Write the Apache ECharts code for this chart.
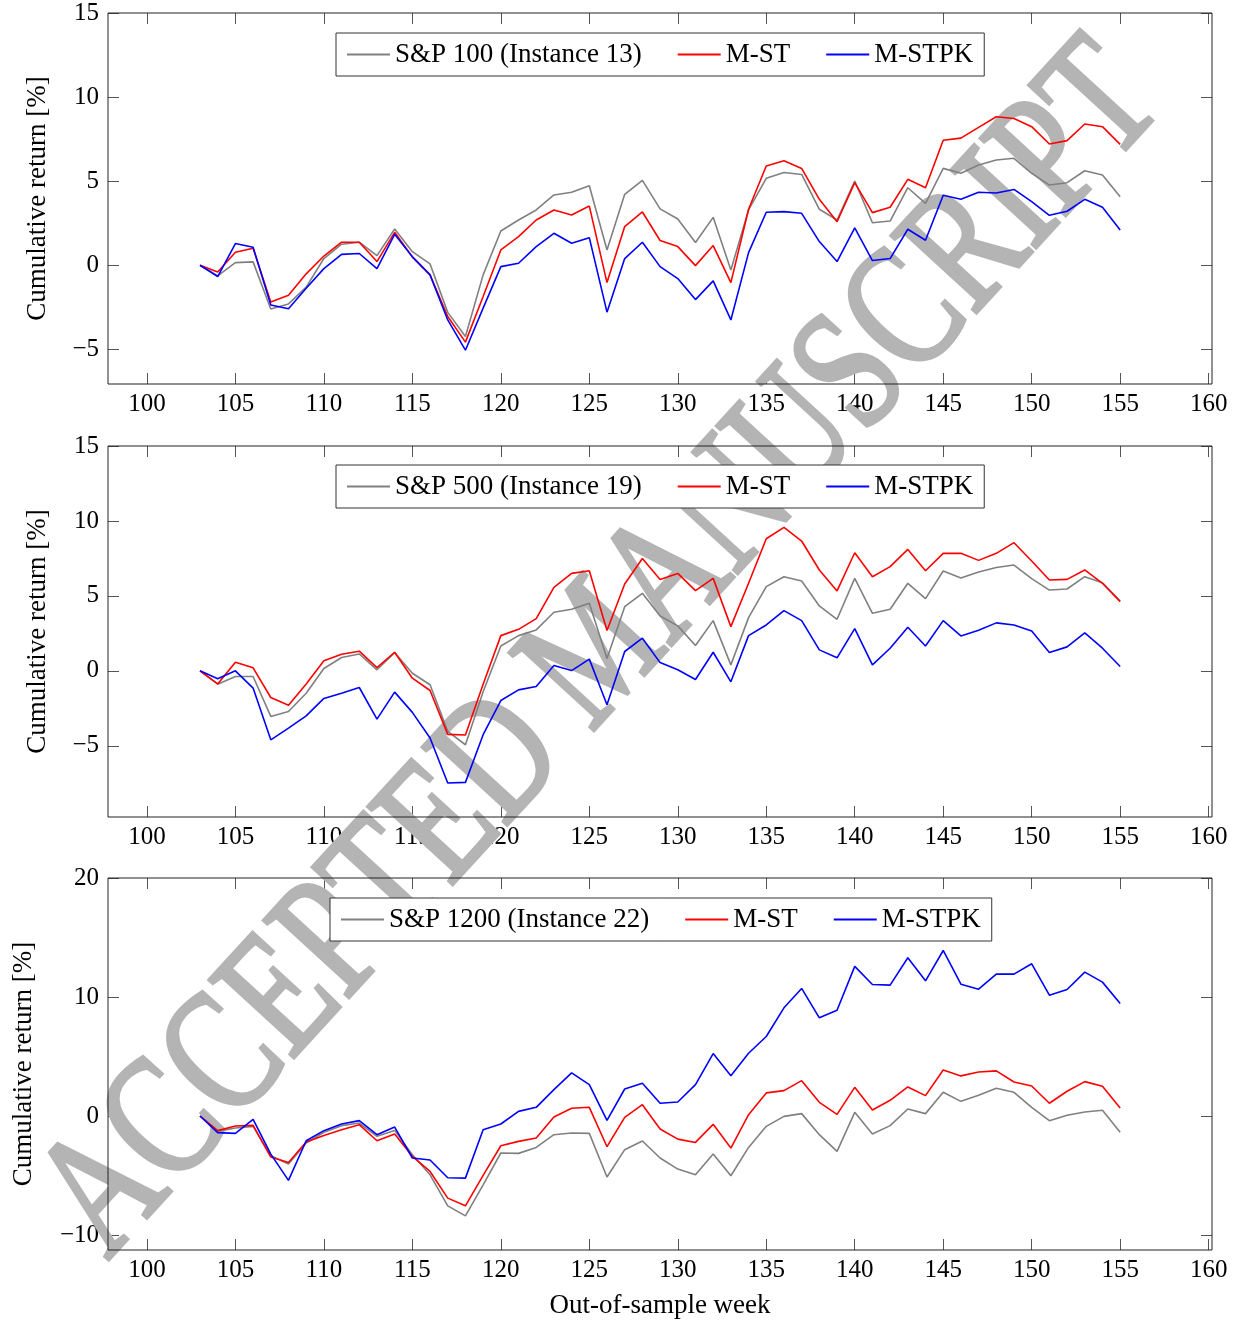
<!DOCTYPE html>
<html>
<head>
<meta charset="utf-8">
<script src="https://cdn.jsdelivr.net/npm/echarts@6/dist/echarts.min.js"></script>
<style>html,body{margin:0;padding:0;background:#fff}#c{width:1241px;height:1321px}</style>
</head>
<body>
<div id="c"></div>
<script>
// ---- data ----
const weeks = [103,104,105,106,107,108,109,110,111,112,113,114,115,116,117,118,119,120,121,122,123,124,125,126,127,128,
  129,130,131,132,133,134,135,136,137,138,139,140,141,142,143,144,145,146,147,148,149,150,151,152,153,154,155];

const xTicks = [100,105,110,115,120,125,130,135,140,145,150,155,160];

// Panel 1: S&P 100 (Instance 13)
const sp100Index = [0,-0.63,0.16,0.2,-2.6,-2.3,-1.3,0.4,1.25,1.37,0.57,2.16,0.81,0.08,-2.8,-4.24,-0.57,2.04,2.69,3.29,4.18,4.34,4.73,0.91,4.22,5.05,
  3.35,2.75,1.35,2.85,-0.28,3.29,5.17,5.52,5.4,3.33,2.69,5.01,2.53,2.63,4.61,3.68,5.76,5.47,5.96,6.26,6.36,5.47,4.77,4.91,5.62,5.37,4.08];
const sp100MST = [0,-0.4,0.77,1.01,-2.18,-1.78,-0.51,0.55,1.37,1.37,0.22,1.96,0.5,-0.57,-3.05,-4.57,-1.86,0.91,1.7,2.69,3.29,2.99,3.52,-1.03,2.3,3.17,
  1.47,1.11,-0.02,1.17,-1.03,3.33,5.9,6.22,5.76,3.92,2.59,4.91,3.13,3.45,5.11,4.61,7.43,7.56,8.2,8.83,8.73,8.24,7.21,7.41,8.4,8.24,7.19];
const sp100MSTPK = [0,-0.67,1.29,1.07,-2.36,-2.59,-1.37,-0.2,0.65,0.7,-0.2,1.84,0.5,-0.57,-3.25,-5.05,-2.55,-0.08,0.12,1.11,1.9,1.31,1.64,-2.79,0.4,1.37,
  -0.08,-0.79,-2.04,-0.93,-3.25,0.75,3.15,3.19,3.09,1.41,0.22,2.22,0.28,0.4,2.14,1.49,4.16,3.92,4.34,4.3,4.51,3.78,2.97,3.21,3.92,3.45,2.1];
const yTicks1 = [-5,0,5,10,15];

// Panel 2: S&P 500 (Instance 19)
const sp500Index = [0,-0.89,-0.38,-0.38,-3.04,-2.71,-1.49,0.16,0.89,1.13,0.07,1.22,-0.16,-0.93,-4.04,-4.93,-1.4,1.66,2.35,2.73,3.91,4.11,4.51,0.82,4.28,5.17,
  3.66,3.0,1.69,3.35,0.4,3.55,5.62,6.28,5.99,4.33,3.44,6.17,3.84,4.11,5.84,4.82,6.66,6.19,6.59,6.9,7.06,6.15,5.39,5.46,6.28,5.88,4.66];
const sp500MST = [0,-0.87,0.58,0.2,-1.78,-2.29,-0.87,0.67,1.11,1.31,0.22,1.24,-0.49,-1.31,-4.24,-4.28,-0.9,2.35,2.77,3.48,5.57,6.5,6.68,2.69,5.79,7.5,
  6.1,6.5,5.35,6.17,2.95,5.84,8.81,9.57,8.66,6.73,5.33,7.88,6.28,6.95,8.1,6.68,7.84,7.84,7.37,7.84,8.55,7.33,6.06,6.1,6.73,5.84,4.62];
const sp500MSTPK = [0,-0.53,0,-1.15,-4.6,-3.82,-3.0,-1.84,-1.49,-1.11,-3.22,-1.42,-2.77,-4.48,-7.48,-7.44,-4.26,-1.98,-1.27,-1.04,0.36,0.02,0.78,-2.26,1.29,2.18,
  0.55,0.07,-0.58,1.24,-0.73,2.35,3.06,4.02,3.35,1.4,0.87,2.82,0.4,1.51,2.91,1.66,3.35,2.33,2.71,3.2,3.06,2.66,1.22,1.6,2.53,1.51,0.29];
const yTicks2 = [-5,0,5,10,15];

// Panel 3: S&P 1200 (Instance 22)
const sp1200Index = [0,-1.29,-1.01,-0.87,-3.34,-4.04,-2.27,-1.37,-0.81,-0.59,-1.71,-1.21,-3.25,-4.94,-7.55,-8.39,-5.78,-3.11,-3.14,-2.64,-1.57,-1.43,-1.46,-5.13,-2.83,-2.1,
  -3.53,-4.46,-4.94,-3.2,-5.02,-2.64,-0.87,-0.03,0.2,-1.57,-2.97,0.31,-1.51,-0.81,0.59,0.2,1.99,1.23,1.74,2.33,1.99,0.73,-0.39,0.06,0.34,0.48,-1.37];
const sp1200MST = [0,-1.23,-0.84,-0.79,-3.45,-3.9,-2.19,-1.63,-1.15,-0.73,-2.08,-1.51,-3.39,-4.66,-6.9,-7.55,-4.99,-2.5,-2.13,-1.85,-0.08,0.65,0.73,-2.58,-0.11,0.95,
  -1.09,-1.94,-2.22,-0.7,-2.69,0.11,1.94,2.13,2.97,1.15,0.14,2.41,0.5,1.32,2.44,1.71,3.87,3.37,3.7,3.79,2.86,2.52,1.07,2.08,2.89,2.5,0.67];
const sp1200MSTPK = [0,-1.4,-1.46,-0.28,-3.2,-5.41,-2.08,-1.23,-0.67,-0.39,-1.57,-0.93,-3.53,-3.7,-5.19,-5.22,-1.15,-0.67,0.39,0.73,2.22,3.62,2.64,-0.36,2.27,2.75,
  1.07,1.18,2.64,5.25,3.39,5.27,6.68,9.09,10.72,8.25,8.89,12.57,11.05,11.0,13.3,11.36,13.91,11.08,10.66,11.92,11.92,12.79,10.15,10.63,12.09,11.25,9.45];
const yTicks3 = [-10,0,10,20];

const panelNames = ['S&P 100 (Instance 13)', 'S&P 500 (Instance 19)', 'S&P 1200 (Instance 22)'];
const methodNames = ['M-ST', 'M-STPK'];
const xLabel = 'Out-of-sample week';
const yLabel = 'Cumulative return [%]';
const watermark = 'ACCEPTED MANUSCRIPT';

// ---- layout / styles ----
const FONT = 'Liberation Serif';
const colors = ['#808080', '#ff0000', '#0000ff'];
const panels = [
  {top: 13, height: 371, ymin: -7.06, ymax: 15, ticks: yTicks1, series: [sp100Index, sp100MST, sp100MSTPK], legendLeft: 336, legendTop: 33, nameGap: 57},
  {top: 446, height: 371, ymin: -9.75, ymax: 15, ticks: yTicks2, series: [sp500Index, sp500MST, sp500MSTPK], legendLeft: 336, legendTop: 465, nameGap: 57},
  {top: 878, height: 372, ymin: -11.26, ymax: 20, ticks: yTicks3, series: [sp1200Index, sp1200MST, sp1200MSTPK], legendLeft: 330, legendTop: 898, nameGap: 71}
];
const XMIN = 97.8, XMAX = 160.19;
const fmt = v => String(v).replace('-', '\u2212');
const tickStyle = {inside: true, length: 11, lineStyle: {color: '#555', width: 1}};
const noLine = {show: false, onZero: false};

const grid = [], xAxis = [], yAxis = [], series = [], legend = [];
panels.forEach((p, i) => {
  grid.push({left: 108, width: 1104, top: p.top, height: p.height, show: true, borderColor: '#222', borderWidth: 1, backgroundColor: 'transparent', z: 5});
  xAxis.push({
    type: 'value', gridIndex: i, position: 'bottom', min: XMIN, max: XMAX,
    axisLine: noLine, splitLine: {show: false},
    axisTick: Object.assign({customValues: xTicks}, tickStyle),
    axisLabel: {customValues: xTicks, formatter: fmt, margin: 8, color: '#000', fontFamily: FONT, fontSize: 25},
    name: i === 2 ? xLabel : '', nameLocation: 'middle', nameGap: 42,
    nameTextStyle: {fontFamily: FONT, fontSize: 27, color: '#000'}
  });
  xAxis.push({
    type: 'value', gridIndex: i, position: 'top', min: XMIN, max: XMAX,
    axisLine: noLine, splitLine: {show: false},
    axisTick: Object.assign({customValues: xTicks}, tickStyle),
    axisLabel: {show: false, customValues: xTicks}
  });
  yAxis.push({
    type: 'value', gridIndex: i, position: 'left', min: p.ymin, max: p.ymax,
    axisLine: noLine, splitLine: {show: false},
    axisTick: Object.assign({customValues: p.ticks}, tickStyle),
    axisLabel: {customValues: p.ticks, formatter: fmt, margin: 9, color: '#000', fontFamily: FONT, fontSize: 25},
    name: yLabel, nameLocation: 'middle', nameGap: p.nameGap, nameRotate: 90,
    nameTextStyle: {fontFamily: FONT, fontSize: 27, color: '#000'}
  });
  yAxis.push({
    type: 'value', gridIndex: i, position: 'right', min: p.ymin, max: p.ymax,
    axisLine: noLine, splitLine: {show: false},
    axisTick: Object.assign({customValues: p.ticks}, tickStyle),
    axisLabel: {show: false, customValues: p.ticks}
  });
  const names = [panelNames[i], methodNames[0], methodNames[1]];
  names.forEach((nm, k) => {
    series.push({
      type: 'line', name: nm, xAxisIndex: 2 * i, yAxisIndex: 2 * i,
      data: weeks.map((w, j) => [w, p.series[k][j]]),
      showSymbol: false, symbol: 'none', animation: false, z: 3 + k,
      lineStyle: {color: colors[k], width: 1.6}, itemStyle: {color: colors[k]}
    });
  });
  legend.push({
    data: names, left: p.legendLeft, top: p.legendTop, orient: 'horizontal',
    icon: 'rect', itemWidth: 43, itemHeight: 2, itemGap: 36,
    padding: [8, 11, 8, 11], backgroundColor: '#fff', borderColor: '#333', borderWidth: 1, borderRadius: 0,
    textStyle: {fontFamily: FONT, fontSize: 27, color: '#000'},
    selectedMode: false, z: 10
  });
});

const chart = echarts.init(document.getElementById('c'), null, {renderer: 'canvas'});
chart.setOption({
  backgroundColor: '#fff',
  animation: false,
  grid, xAxis, yAxis, series, legend,
  graphic: [{
    type: 'text', x: 603, y: 652, rotation: 47.5 * Math.PI / 180, scaleX: 0.755, scaleY: 1, z: 1, silent: true,
    style: {text: watermark, fill: '#b4b4b4', stroke: '#b4b4b4', lineWidth: 4, font: '175px "Liberation Serif"', align: 'center', verticalAlign: 'middle'}
  }]
});
</script>
</body>
</html>
